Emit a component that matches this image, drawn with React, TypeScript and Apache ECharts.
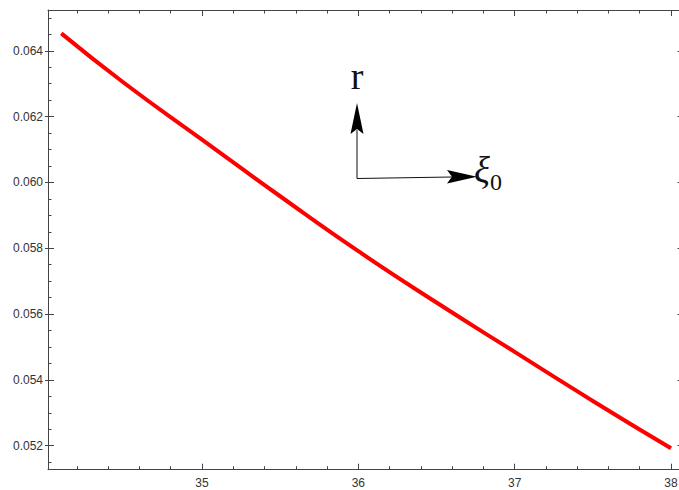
import React, { useEffect, useRef } from "react";
import * as echarts from "echarts";

const xValues = [34.1, 34.5, 35, 35.5, 36, 36.5, 37, 37.5, 38];
const rValues = [0.06453, 0.06303, 0.0613, 0.05958, 0.05791, 0.05635, 0.05485, 0.05336, 0.05192];

const xMajorTicks = [35, 36, 37, 38];
const xMinorTicks = [34.2, 34.4, 34.6, 34.8, 35.2, 35.4, 35.6, 35.8, 36.2, 36.4, 36.6, 36.8, 37.2, 37.4, 37.6, 37.8, 38.2];
const yMajorTicks = [0.052, 0.054, 0.056, 0.058, 0.06, 0.062, 0.064];
const yMinorTicks = [0.0515, 0.0525, 0.053, 0.0535, 0.0545, 0.055, 0.0555, 0.0565, 0.057, 0.0575, 0.0585, 0.059, 0.0595, 0.0605, 0.061, 0.0615, 0.0625, 0.063, 0.0635, 0.0645, 0.065];

const X_MIN = 34.015;
const X_MAX = 38.08;
const Y_MIN = 0.05127;
const Y_MAX = 0.06524;

const FRAME = "#444";
const LABEL = "#333";

function xAxisDef(position: "top" | "bottom", ticks: number[], len: number, labels: boolean, showLine: boolean) {
  return {
    type: "value",
    position,
    min: X_MIN,
    max: X_MAX,
    splitLine: { show: false },
    axisLine: { show: showLine, onZero: false, lineStyle: { color: FRAME, width: 1 } },
    axisTick: { show: true, inside: true, length: len, customValues: ticks, lineStyle: { color: FRAME, width: 1 } },
    axisLabel: labels
      ? { show: true, customValues: ticks, color: LABEL, fontSize: 12, fontFamily: "Liberation Sans, Arial, sans-serif", margin: 7, formatter: (v: number) => String(Math.round(v)) }
      : { show: false },
  };
}

function yAxisDef(position: "left" | "right", ticks: number[], len: number, labels: boolean, showLine: boolean, inside = true) {
  return {
    type: "value",
    position,
    min: Y_MIN,
    max: Y_MAX,
    splitLine: { show: false },
    axisLine: { show: showLine, onZero: false, lineStyle: { color: FRAME, width: 1 } },
    axisTick: { show: true, inside, length: len, customValues: ticks, lineStyle: { color: FRAME, width: 1 } },
    axisLabel: labels
      ? { show: true, customValues: ticks, color: LABEL, fontSize: 12, fontFamily: "Liberation Sans, Arial, sans-serif", margin: 5, formatter: (v: number) => v.toFixed(3) }
      : { show: false },
  };
}

export default function App() {
  const ref = useRef<HTMLDivElement>(null);
  useEffect(() => {
    if (!ref.current) return;
    const chart = echarts.init(ref.current, null, { renderer: "svg" });
    const data = xValues.map((x, i) => [x, rValues[i]]);
    chart.setOption({
      animation: false,
      backgroundColor: "#fff",
      grid: { left: 48, top: 10, width: 635.5, height: 459.7, containLabel: false, outerBoundsMode: "none" },
      xAxis: [
        xAxisDef("bottom", xMajorTicks, 6, true, true),
        xAxisDef("bottom", xMinorTicks, 3.5, false, false),
        xAxisDef("top", xMajorTicks, 6, false, true),
        xAxisDef("top", xMinorTicks, 3.5, false, false),
      ],
      yAxis: [
        yAxisDef("left", yMajorTicks, 6, true, true),
        yAxisDef("left", yMinorTicks, 3.5, false, false),
        yAxisDef("left", yMajorTicks, 3, false, false, false),
        yAxisDef("right", yMajorTicks, 6, false, true),
        yAxisDef("right", yMinorTicks, 3.5, false, false),
      ],
      series: [
        {
          type: "line",
          xAxisIndex: 0,
          yAxisIndex: 0,
          data,
          smooth: true,
          showSymbol: false,
          symbol: "none",
          lineStyle: { color: "#ff0000", width: 4, cap: "butt" },
        },
      ],
      graphic: [
        { type: "line", shape: { x1: 357, y1: 178.5, x2: 357, y2: 130 }, style: { stroke: "#111", lineWidth: 1 } },
        { type: "polygon", shape: { points: [[357, 103], [350.5, 134], [357, 129], [363.5, 134]] }, style: { fill: "#000" } },
        { type: "line", shape: { x1: 357, y1: 178.5, x2: 452, y2: 177 }, style: { stroke: "#111", lineWidth: 1 } },
        { type: "polygon", shape: { points: [[477, 176.7], [447, 170], [452, 176.8], [447, 183.5]] }, style: { fill: "#000" } },
        { type: "text", x: 357, y: 95, style: { text: "r", fill: "#111", font: "38px 'Liberation Serif', 'DejaVu Serif', serif", align: "center", verticalAlign: "bottom" } },
        { type: "text", x: 474, y: 189, style: { text: "ξ", fill: "#111", font: "italic 37px 'Liberation Serif', 'DejaVu Serif', serif", align: "left", verticalAlign: "bottom" } },
        { type: "text", x: 490, y: 194, style: { text: "0", fill: "#111", font: "24px 'Liberation Serif', 'DejaVu Serif', serif", align: "left", verticalAlign: "bottom" } },
      ],
    });
    return () => chart.dispose();
  }, []);
  return (
    <div style={{ position: "fixed", left: 0, top: 0, width: 679, height: 490, overflow: "hidden", background: "#fff" }}>
      <div ref={ref} style={{ width: 700, height: 490 }} />
    </div>
  );
}
